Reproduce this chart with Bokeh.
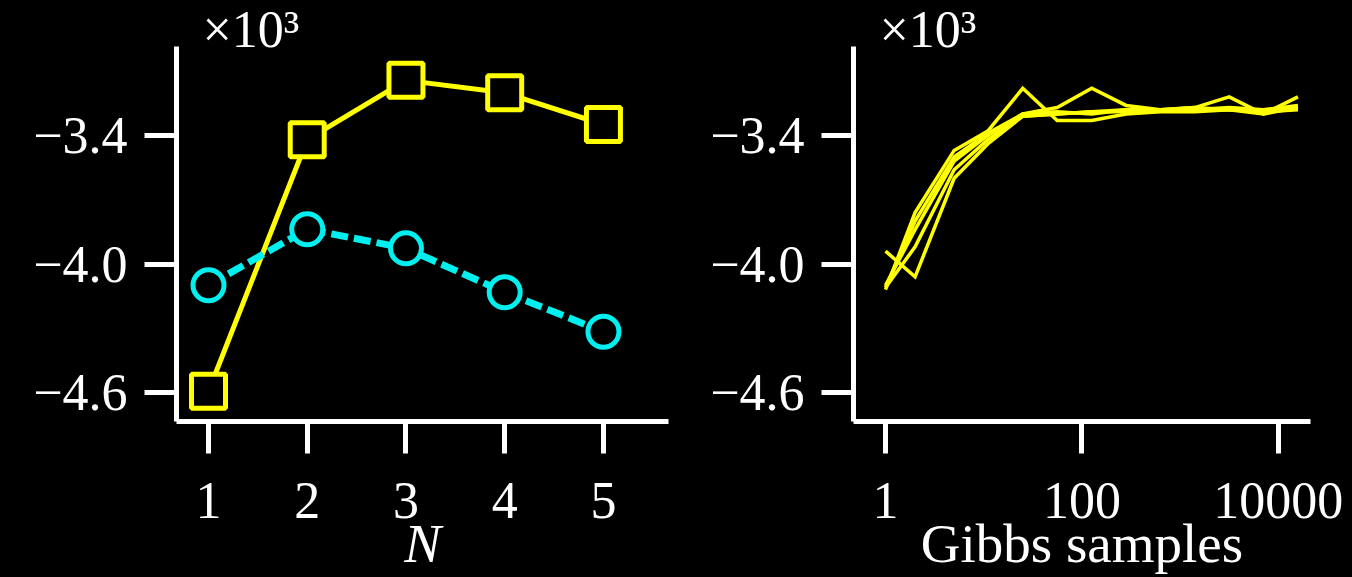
from bokeh.plotting import figure
from bokeh.layouts import row
from bokeh.models import Range1d, FixedTicker, CustomJSTickFormatter, Title
from bokeh.embed import file_html
from bokeh.resources import INLINE

# ---------------- data (values in units of 10^3) ----------------
N = [1, 2, 3, 4, 5]
square_series = [-4.594, -3.420, -3.143, -3.201, -3.349]
circle_series = [-4.099, -3.838, -3.927, -4.132, -4.316]

gibbs_samples = [1, 2, 5, 11, 25, 56, 126, 282, 631, 1413, 3162, 7079, 15849]
run_1 = [-4.12, -3.76, -3.47, -3.38, -3.18, -3.33, -3.33, -3.30, -3.29, -3.29, -3.28, -3.30, -3.27]
run_2 = [-4.10, -3.84, -3.52, -3.40, -3.30, -3.27, -3.18, -3.26, -3.28, -3.28, -3.27, -3.28, -3.27]
run_3 = [-4.11, -3.92, -3.56, -3.42, -3.31, -3.30, -3.29, -3.29, -3.28, -3.27, -3.22, -3.30, -3.22]
run_4 = [-3.94, -4.06, -3.60, -3.44, -3.31, -3.30, -3.29, -3.28, -3.28, -3.28, -3.28, -3.28, -3.26]
run_5 = [-4.11, -3.80, -3.50, -3.39, -3.30, -3.29, -3.30, -3.28, -3.28, -3.27, -3.28, -3.29, -3.28]
runs = [run_1, run_2, run_3, run_4, run_5]

y_ticks = [-4.6, -4.0, -3.4]
n_ticks = [1, 2, 3, 4, 5]
gibbs_ticks = [1, 100, 10000]
scale_text = "×10³"
n_label = "N"
gibbs_label = "Gibbs samples"

# ---------------- styling ----------------
FONT = "Liberation Serif"
YELLOW = "#ffff00"
CYAN = "#00f0f0"
Y_START, Y_END = -4.735, -2.985
X1_START, X1_END = 0.676, 5.659
X2_START, X2_END = 0.472, 21280

y_fmt = CustomJSTickFormatter(code="return (tick < 0 ? '\\u2212' : '') + Math.abs(tick).toFixed(1);")


def style(p):
    p.background_fill_color = "black"
    p.border_fill_color = "black"
    p.outline_line_color = None
    p.grid.grid_line_color = None
    for ax in p.axis:
        ax.axis_line_color = "white"
        ax.axis_line_width = 5
        ax.major_tick_line_color = "white"
        ax.major_tick_line_width = 5
        ax.major_tick_out = 32
        ax.major_tick_in = 0
        ax.minor_tick_line_color = None
        ax.major_label_text_color = "white"
        ax.major_label_text_font = FONT
        ax.major_label_text_font_size = "52px"
        ax.axis_label_text_color = "white"
        ax.axis_label_text_font = FONT
        ax.axis_label_text_font_size = "55px"
    p.yaxis.ticker = FixedTicker(ticks=y_ticks)
    p.yaxis.formatter = y_fmt
    p.yaxis.major_label_standoff = 17
    p.xaxis.major_label_standoff = 29
    p.xaxis.axis_label_standoff = -8
    p.add_layout(Title(text=scale_text, align="left", offset=26, standoff=-22,
                       vertical_align="bottom", text_color="white", text_font=FONT,
                       text_font_size="52px", text_font_style="normal"), "above")


# ---------------- left panel ----------------
p1 = figure(width=688, height=577, output_backend="svg", toolbar_location=None,
            x_range=Range1d(X1_START, X1_END), y_range=Range1d(Y_START, Y_END),
            min_border_left=176, min_border_right=20, min_border_top=46, min_border_bottom=156)
style(p1)
p1.xaxis.ticker = FixedTicker(ticks=n_ticks)
p1.xaxis.axis_label = n_label
p1.xaxis.axis_label_text_font_style = "italic"

p1.line(N, square_series, line_color=YELLOW, line_width=5)
p1.line(N, circle_series, line_color=CYAN, line_width=7, line_dash="17 6")
p1.scatter(N, square_series, marker="square", size=34, line_color=YELLOW, line_width=5, fill_color="black")
p1.scatter(N, circle_series, marker="circle", size=31, line_color=CYAN, line_width=5, fill_color="black")

# ---------------- right panel ----------------
p2 = figure(width=664, height=577, output_backend="svg", toolbar_location=None, x_axis_type="log",
            x_range=Range1d(X2_START, X2_END), y_range=Range1d(Y_START, Y_END),
            min_border_left=165, min_border_right=42, min_border_top=46, min_border_bottom=156)
style(p2)
p2.xaxis.ticker = FixedTicker(ticks=gibbs_ticks)
p2.xaxis.formatter = CustomJSTickFormatter(code="return tick.toFixed(0);")
p2.xaxis.axis_label = gibbs_label
p2.xaxis.axis_label_text_font_style = "normal"
for r in runs:
    p2.line(gibbs_samples, r, line_color=YELLOW, line_width=3.5, line_join="miter")

layout = row(p1, p2)
html = file_html(layout, INLINE, title="Log-likelihood")
html = html.replace("<head>", "<head><style>html, body {background: #000000;}</style>", 1)
open("out.html", "w").write(html)
